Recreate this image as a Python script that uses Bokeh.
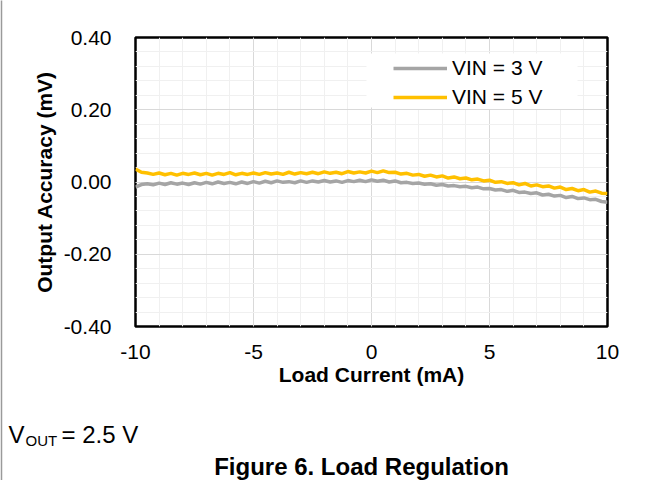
from bokeh.plotting import figure
from bokeh.models import SingleIntervalTicker, CustomJSTickFormatter, Range1d
from bokeh.core.properties import value
from bokeh.embed import file_html
from bokeh.resources import INLINE

# ---- data ----
load_current_ma = [
    -10.00, -9.75, -9.50, -9.25, -9.00, -8.75, -8.50, -8.25, -8.00, -7.75,
    -7.50, -7.25, -7.00, -6.75, -6.50, -6.25, -6.00, -5.75, -5.50, -5.25,
    -5.00, -4.75, -4.50, -4.25, -4.00, -3.75, -3.50, -3.25, -3.00, -2.75,
    -2.50, -2.25, -2.00, -1.75, -1.50, -1.25, -1.00, -0.75, -0.50, -0.25,
    0.00, 0.25, 0.50, 0.75, 1.00, 1.25, 1.50, 1.75, 2.00, 2.25,
    2.50, 2.75, 3.00, 3.25, 3.50, 3.75, 4.00, 4.25, 4.50, 4.75,
    5.00, 5.25, 5.50, 5.75, 6.00, 6.25, 6.50, 6.75, 7.00, 7.25,
    7.50, 7.75, 8.00, 8.25, 8.50, 8.75, 9.00, 9.25, 9.50, 9.75,
    10.00,
]

vin3_accuracy_mv = [
    -0.014, -0.007, -0.005, -0.008, -0.003, -0.007, -0.002, -0.006, -0.003, -0.007,
    -0.002, -0.006, -0.001, -0.005, 0.000, -0.004, -0.001, -0.005, 0.000, -0.004,
    0.001, -0.003, 0.002, -0.002, 0.003, -0.001, 0.001, -0.002, 0.003, -0.001,
    0.003, 0.000, 0.004, 0.000, 0.003, -0.001, 0.004, 0.001, 0.005, 0.001,
    0.006, 0.002, 0.005, 0.000, 0.003, -0.002, -0.001, -0.004, -0.003, -0.006,
    -0.005, -0.009, -0.007, -0.011, -0.010, -0.013, -0.012, -0.016, -0.014, -0.019,
    -0.018, -0.022, -0.021, -0.026, -0.023, -0.029, -0.028, -0.032, -0.030, -0.036,
    -0.034, -0.039, -0.037, -0.043, -0.040, -0.046, -0.044, -0.049, -0.048, -0.054,
    -0.056,
]

vin5_accuracy_mv = [
    0.036, 0.027, 0.025, 0.021, 0.025, 0.020, 0.024, 0.019, 0.024, 0.021,
    0.025, 0.020, 0.024, 0.019, 0.024, 0.021, 0.026, 0.020, 0.024, 0.021,
    0.025, 0.021, 0.026, 0.022, 0.025, 0.021, 0.027, 0.022, 0.026, 0.023,
    0.027, 0.023, 0.028, 0.024, 0.027, 0.023, 0.029, 0.025, 0.028, 0.025,
    0.030, 0.026, 0.031, 0.026, 0.027, 0.022, 0.024, 0.019, 0.021, 0.016,
    0.019, 0.014, 0.017, 0.011, 0.014, 0.009, 0.011, 0.006, 0.008, 0.003,
    0.005, -0.001, 0.001, -0.004, -0.002, -0.008, -0.004, -0.011, -0.008, -0.013,
    -0.011, -0.017, -0.014, -0.021, -0.018, -0.024, -0.021, -0.028, -0.025, -0.031,
    -0.032,
]

series_labels = ["VIN = 3 V", "VIN = 5 V"]
series_colors = ["#a5a5a5", "#ffc000"]

x_axis_title = "Load Current (mA)"
y_axis_title = "Output Accuracy (mV)"
x_limits = (-10, 10)
y_limits = (-0.40, 0.40)
x_major_step = 5
y_major_step = 0.2
note_main = "V"
note_sub = "OUT"
note_rest = "= 2.5 V"
caption = "Figure 6. Load Regulation"

FONT = "Liberation Sans"
W, H = 648, 480
FL, FR, FT, FB = 135, 607, 37, 326   # frame edges in canvas pixels

p = figure(width=W, height=H, output_backend="svg", toolbar_location=None,
           x_range=Range1d(*x_limits), y_range=Range1d(*y_limits),
           min_border_left=FL, min_border_right=W - FR, min_border_top=FT,
           min_border_bottom=H - FB)
p.background_fill_color = "white"
p.border_fill_color = "white"
p.outline_line_color = "black"
p.outline_line_width = 2.5

# pixel-like helper ranges (y down) for layout decorations and the notes below the chart
p.extra_x_ranges = {"px": Range1d(FL, FR)}
p.extra_y_ranges = {"px": Range1d(FB, FT)}

# white box behind the legend (hides the grid there, as in the reference)
p.quad(left=[366], right=[577], top=[53], bottom=[107], x_range_name="px",
       y_range_name="px", fill_color="white", line_color=None)

for yvals, lab, col in zip([vin3_accuracy_mv, vin5_accuracy_mv], series_labels, series_colors):
    p.line(load_current_ma, yvals, line_color=col, line_width=3.5, legend_label=lab)

p.xaxis.ticker = SingleIntervalTicker(interval=x_major_step, num_minor_ticks=5)
p.yaxis.ticker = SingleIntervalTicker(interval=y_major_step, num_minor_ticks=5)
p.xaxis.formatter = CustomJSTickFormatter(code="return Math.round(tick).toString();")
p.yaxis.formatter = CustomJSTickFormatter(
    code="var v = Math.abs(tick) < 1e-9 ? 0 : tick; return v.toFixed(2);")

for ax in (p.xaxis, p.yaxis):
    ax.axis_line_color = None
    ax.major_tick_line_color = None
    ax.minor_tick_line_color = None
    ax.major_tick_in = 0
    ax.major_tick_out = 0
    ax.minor_tick_in = 0
    ax.minor_tick_out = 0
    ax.major_label_text_font = FONT
    ax.major_label_text_font_size = "21px"
    ax.major_label_text_color = "#000000"
    ax.axis_label_text_font = FONT
    ax.axis_label_text_font_size = "21px"
    ax.axis_label_text_font_style = "bold"
    ax.axis_label_text_color = "#000000"

p.xaxis.axis_label = x_axis_title
p.yaxis.axis_label = y_axis_title
p.xaxis.major_label_standoff = 18
p.xaxis.axis_label_standoff = 1
p.yaxis.major_label_standoff = 24
p.yaxis.axis_label_standoff = 5

p.xgrid.grid_line_color = "#d9d9d9"
p.ygrid.grid_line_color = "#d9d9d9"
p.xgrid.minor_grid_line_color = "#f0f0f0"
p.ygrid.minor_grid_line_color = "#f0f0f0"

leg = p.legend[0]
leg.location = (258, 217)
leg.border_line_color = None
leg.background_fill_color = "white"
leg.background_fill_alpha = 1.0
leg.label_text_font = FONT
leg.label_text_font_size = "21px"
leg.label_text_color = "#000000"
leg.glyph_width = 54
leg.glyph_height = 20
leg.label_height = 20
leg.label_width = 120
leg.label_standoff = 5
leg.padding = 5
leg.spacing = 5
leg.margin = 0

common = dict(x_range_name="px", y_range_name="px", level="overlay",
              text_font=value(FONT), text_color="#000000", text_baseline="alphabetic")
p.text(x=[8], y=[434], text=[note_main], text_font_size="24px", text_align="left", **common)
p.text(x=[25], y=[440], text=[note_sub], text_font_size="15px", text_align="left", **common)
p.text(x=[61], y=[434], text=[note_rest], text_font_size="24px", text_align="left", **common)
p.text(x=[361], y=[466], text=[caption], text_font_size="24px", text_font_style="bold",
       text_align="center", **common)

# page border line at the left edge of the reference
p.segment(x0=[1], y0=[0], x1=[1], y1=[H], x_range_name="px", y_range_name="px",
          level="overlay", line_color="#9a9a9a", line_width=1.5)

open("out.html", "w").write(file_html(p, INLINE))
